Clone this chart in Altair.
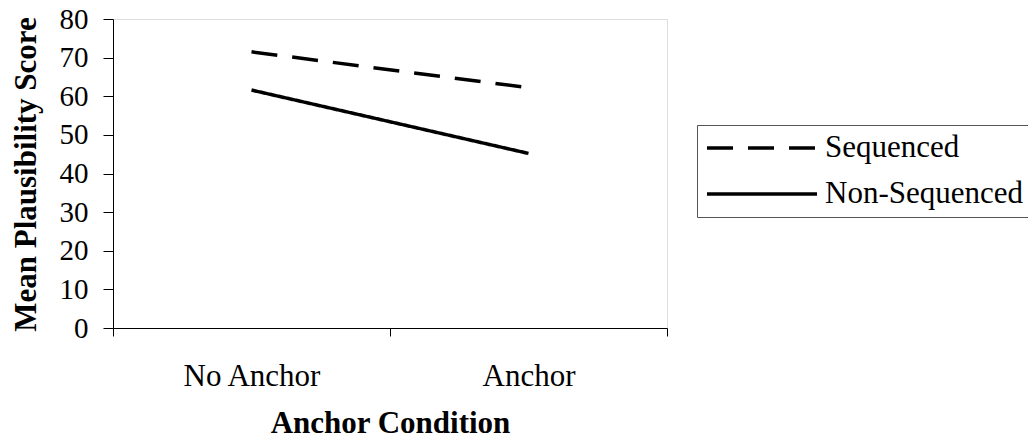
import altair as alt
import pandas as pd

conditions = ["No Anchor", "Anchor"]
series_names = ["Sequenced", "Non-Sequenced"]
sequenced = [71.5, 62.2]
non_sequenced = [61.6, 45.2]
y_ticks = [0, 10, 20, 30, 40, 50, 60, 70, 80]

rows = []
for name, vals in zip(series_names, [sequenced, non_sequenced]):
    for c, v in zip(conditions, vals):
        rows.append({"condition": c, "series": name, "value": v})
df = pd.DataFrame(rows)

FONT = "Liberation Serif"

chart = alt.Chart(df).mark_line(color="black", strokeWidth=3.5).encode(
    x=alt.X(
        "condition:N",
        sort=conditions,
        scale=alt.Scale(type="band", paddingInner=0, paddingOuter=0),
        axis=alt.Axis(
            title="Anchor Condition",
            labelAngle=0,
            tickBand="extent",
            tickSize=8,
            labelPadding=49,
            labelBaseline="alphabetic",
            labelFont=FONT,
            labelFontSize=31,
            labelColor="black",
            titleFont=FONT,
            titleFontSize=31,
            titleFontWeight="bold",
            titleColor="black",
            titleBaseline="alphabetic",
            titleY=104,
            titleX=277,
            domainColor="black",
            tickColor="black",
            grid=False,
        ),
    ),
    y=alt.Y(
        "value:Q",
        scale=alt.Scale(domain=[0, 80], nice=False),
        axis=alt.Axis(
            title="Mean Plausibility Score",
            values=y_ticks,
            tickSize=10,
            labelPadding=15,
            labelFont=FONT,
            labelFontSize=29,
            labelColor="black",
            titleFont=FONT,
            titleFontSize=31,
            titleFontWeight="bold",
            titleColor="black",
            titleBaseline="alphabetic",
            titleAlign="center",
            titleAngle=270,
            titleX=-78,
            titleY=155,
            domainColor="black",
            tickColor="black",
            grid=False,
        ),
    ),
    strokeDash=alt.StrokeDash(
        "series:N",
        scale=alt.Scale(domain=series_names, range=[[26, 15], [1, 0]]),
        legend=alt.Legend(
            title=None,
            orient="none",
            legendX=584,
            legendY=106,
            symbolType="stroke",
            symbolSize=12100,
            symbolStrokeWidth=3.5,
            symbolStrokeColor="black",
            clipHeight=30,
            rowPadding=15,
            padding=8,
            labelOffset=6,
            labelFont=FONT,
            labelFontSize=31,
            labelColor="black",
            strokeColor="#555555",
            labelLimit=400,
        ),
    ),
    detail="series:N",
).properties(
    width=554,
    height=309,
    autosize=alt.AutoSizeParams(type="none"),
    padding={"left": 105, "top": 11, "right": 361, "bottom": 111},
).configure_view(strokeWidth=0).configure(background="white")

chart.save("out.html", embed_options={"renderer": "svg", "actions": False})
